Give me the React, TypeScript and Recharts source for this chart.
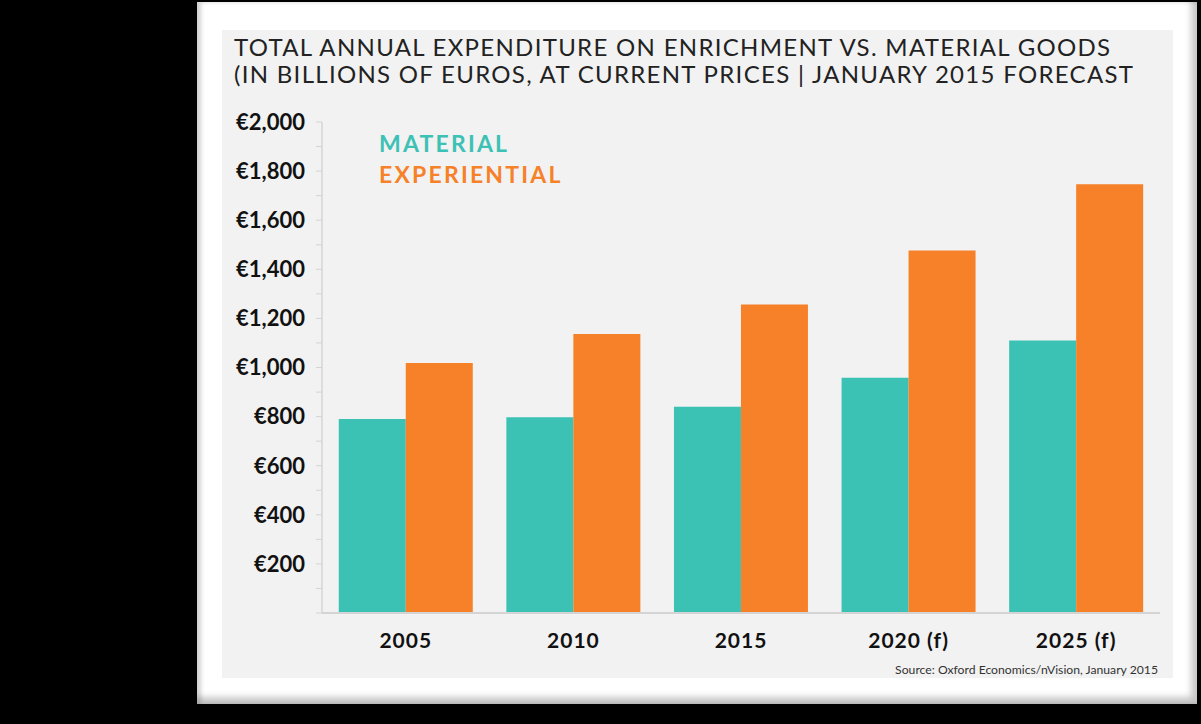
import React from 'react'
import { BarChart, Bar, XAxis, YAxis, Legend } from 'recharts'

const years = ['2005', '2010', '2015', '2020 (f)', '2025 (f)']
const material = [790, 797, 840, 958, 1110]
const experiential = [1018, 1136, 1257, 1477, 1746]
const yTicks = [0, 100, 200, 300, 400, 500, 600, 700, 800, 900, 1000, 1100, 1200, 1300, 1400, 1500, 1600, 1700, 1800, 1900, 2000]
const seriesNames = ['MATERIAL', 'EXPERIENTIAL']

const TEAL = '#3cc1b5'
const ORANGE = '#f68128'

const data = years.map((year, i) => ({
  year,
  material: material[i],
  experiential: experiential[i],
}))

const formatEuro = (v: number) => {
  if (v === 0 || v % 200 !== 0) return ''
  return '€' + v.toLocaleString('en-US')
}

const LegendBox = (props: any) => {
  const items = [...(props.payload || [])].sort(
    (a: any, b: any) => seriesNames.indexOf(a.value) - seriesNames.indexOf(b.value)
  )
  return (
    <div>
      {items.map((p: any) => (
        <div
          key={p.value}
          style={{
            color: p.color,
            fontSize: 23,
            fontWeight: 700,
            letterSpacing: 2.2,
            lineHeight: '31px',
          }}
        >
          {p.value}
        </div>
      ))}
    </div>
  )
}

export default function App() {
  return (
    <div
      style={{
        position: 'absolute',
        left: 0,
        top: 0,
        width: 1201,
        height: 724,
        background: '#000',
        overflow: 'hidden',
        fontFamily: 'Lato, sans-serif',
      }}
    >
      {/* white card */}
      <div
        style={{
          position: 'absolute',
          left: 197,
          top: 2,
          width: 1000,
          height: 702,
          background: '#fff',
          boxShadow: 'inset 4px 0 4px rgba(0,0,0,0.18), inset -6px -7px 6px rgba(0,0,0,0.22)',
        }}
      />
      {/* grey panel */}
      <div
        style={{
          position: 'absolute',
          left: 222,
          top: 30,
          width: 951,
          height: 648,
          background: '#f2f2f2',
        }}
      />
      <div
        style={{
          position: 'absolute',
          left: 234,
          top: 33,
          fontSize: 24,
          lineHeight: '27px',
          color: '#222',
          letterSpacing: 1.3,
          whiteSpace: 'nowrap',
        }}
      >
        <div>TOTAL ANNUAL EXPENDITURE ON ENRICHMENT VS. MATERIAL GOODS</div>
        <div>(IN BILLIONS OF EUROS, AT CURRENT PRICES | JANUARY 2015 FORECAST</div>
      </div>

      <div style={{ position: 'absolute', left: 222, top: 100 }}>
        <BarChart
          width={950}
          height={578}
          data={data}
          margin={{ top: 22, right: 12, left: 0, bottom: 0 }}
          barCategoryGap="10%"
          barGap={0}
        >
          <XAxis
            dataKey="year"
            height={65}
            tickLine={false}
            axisLine={{ stroke: '#d4d4d4', strokeWidth: 2 }}
            tickMargin={14}
            tick={{ fontSize: 21, fontWeight: 700, fill: '#111', letterSpacing: 1 }}
          />
          <YAxis
            width={100}
            domain={[0, 2000]}
            ticks={yTicks}
            interval={0}
            tickFormatter={formatEuro}
            tickSize={6}
            tickMargin={11}
            tickLine={{ stroke: '#d4d4d4' }}
            axisLine={{ stroke: '#d4d4d4', strokeWidth: 1.5 }}
            tick={{ fontSize: 22, fontWeight: 700, fill: '#111' }}
          />
          <Legend
            layout="vertical"
            align="center"
            verticalAlign="middle"
            content={<LegendBox />}
            wrapperStyle={{ left: 157, top: 28, width: 300 }}
          />
          <Bar dataKey="material" name="MATERIAL" fill={TEAL} isAnimationActive={false} />
          <Bar dataKey="experiential" name="EXPERIENTIAL" fill={ORANGE} isAnimationActive={false} />
        </BarChart>
      </div>

      <div
        style={{
          position: 'absolute',
          right: 43,
          top: 662,
          fontSize: 12.2,
          color: '#333',
          whiteSpace: 'nowrap',
        }}
      >
        Source: Oxford Economics/nVision, January 2015
      </div>
    </div>
  )
}
